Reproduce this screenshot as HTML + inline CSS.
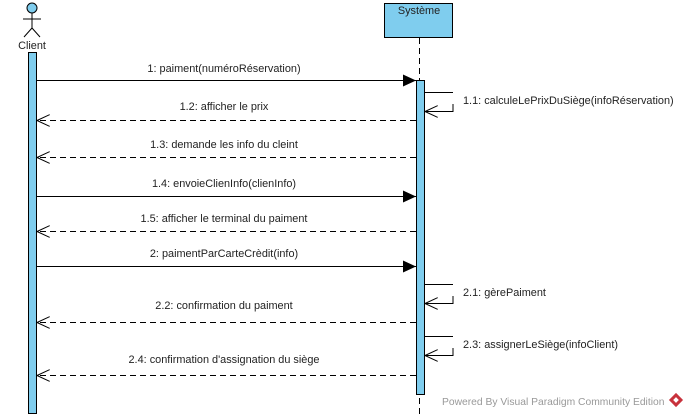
<!DOCTYPE html>
<html><head><meta charset="utf-8"><style>
html,body{margin:0;padding:0;background:#fff;}
svg{display:block;}
text{font-family:"Liberation Sans",Arial,sans-serif;font-size:10.9px;fill:#222;}
</style></head><body>
<svg width="690" height="418" viewBox="0 0 690 418" xmlns="http://www.w3.org/2000/svg">
<defs>
<marker id="f" markerWidth="14" markerHeight="12" refX="13" refY="6" orient="auto" markerUnits="userSpaceOnUse"><path d="M0,0 L13,6 L0,12 Z" fill="#000"/></marker>
<marker id="o" markerWidth="14" markerHeight="12" refX="13" refY="6" orient="auto" markerUnits="userSpaceOnUse"><path d="M0,0 L13,6 L0,12" fill="none" stroke="#000" stroke-width="1"/></marker>
</defs>
<circle cx="32" cy="8" r="5" fill="#7fcdee" stroke="#000" stroke-width="1"/>
<line x1="32" y1="13" x2="32" y2="28" stroke="#000"/>
<line x1="23" y1="19" x2="41" y2="19" stroke="#000"/>
<line x1="32" y1="28" x2="24" y2="37" stroke="#000"/>
<line x1="32" y1="28" x2="40" y2="37" stroke="#000"/>
<text x="32" y="49" text-anchor="middle">Client</text>
<rect x="28.5" y="52.5" width="8" height="361" fill="#7fcdee" stroke="#000"/>
<rect x="384.5" y="3.5" width="68" height="34" fill="#7fcdee" stroke="#000"/>
<text x="419" y="14" text-anchor="middle">Système</text>
<line x1="419.5" y1="38" x2="419.5" y2="415" stroke="#000" stroke-dasharray="6,4"/>
<rect x="416.5" y="80.5" width="8" height="314" fill="#7fcdee" stroke="#000"/>
<g stroke="#000" stroke-width="1" fill="none">
<line x1="37" y1="80.5" x2="416" y2="80.5" marker-end="url(#f)"/>
<line x1="416" y1="120.5" x2="37" y2="120.5" stroke-dasharray="6,4" marker-end="url(#o)"/>
<line x1="416" y1="157.5" x2="37" y2="157.5" stroke-dasharray="6,4" marker-end="url(#o)"/>
<line x1="37" y1="196.5" x2="416" y2="196.5" marker-end="url(#f)"/>
<line x1="416" y1="231.5" x2="37" y2="231.5" stroke-dasharray="6,4" marker-end="url(#o)"/>
<line x1="37" y1="266.5" x2="416" y2="266.5" marker-end="url(#f)"/>
<line x1="416" y1="322.5" x2="37" y2="322.5" stroke-dasharray="6,4" marker-end="url(#o)"/>
<line x1="416" y1="375.5" x2="37" y2="375.5" stroke-dasharray="6,4" marker-end="url(#o)"/>
<polyline points="425,92.5 453,92.5"/>
<polyline points="453,104 453,111.5 425,111.5" marker-end="url(#o)"/>
<polyline points="425,284.5 453,284.5"/>
<polyline points="453,296 453,303.5 425,303.5" marker-end="url(#o)"/>
<polyline points="425,336.5 453,336.5"/>
<polyline points="453,348 453,355.5 425,355.5" marker-end="url(#o)"/>
</g>
<g text-anchor="middle">
<text x="224" y="72">1: paiment(numéroRéservation)</text>
<text x="224" y="110">1.2: afficher le prix</text>
<text x="224" y="148">1.3: demande les info du cleint</text>
<text x="224" y="187">1.4: envoieClienInfo(clienInfo)</text>
<text x="224" y="222">1.5: afficher le terminal du paiment</text>
<text x="224" y="257">2: paimentParCarteCrèdit(info)</text>
<text x="224" y="309">2.2: confirmation du paiment</text>
<text x="224" y="363">2.4: confirmation d'assignation du siège</text>
</g>
<text x="463" y="104">1.1: calculeLePrixDuSiège(infoRéservation)</text>
<text x="463" y="296">2.1: gèrePaiment</text>
<text x="463" y="348">2.3: assignerLeSiège(infoClient)</text>
<text x="442" y="405" style="font-size:10.3px;fill:#999">Powered By  Visual Paradigm Community Edition</text>
<g transform="translate(676,400) rotate(45)"><rect x="-5" y="-5" width="10" height="10" fill="#c8323c"/><rect x="-2" y="-2" width="4" height="4" fill="#fff"/></g>
</svg>
</body></html>
